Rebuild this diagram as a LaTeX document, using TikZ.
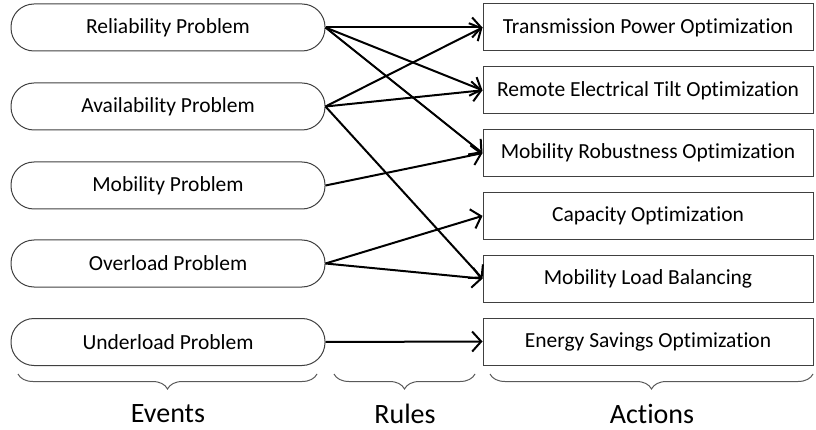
\documentclass[tikz,border=0pt]{standalone}
\usepackage{fontspec}
\setmainfont{Carlito}[Ligatures={NoCommon}]
\usetikzlibrary{arrows.meta,decorations.pathreplacing}
\begin{document}
\begin{tikzpicture}[x=1pt,y=-1pt,
  event/.style={draw=black!75,line width=1pt,rounded corners=23pt,minimum width=314pt,minimum height=47pt,inner sep=0pt,font=\fontsize{21.5}{24}\selectfont},
  action/.style={draw=black!75,line width=1pt,minimum width=330pt,minimum height=47pt,inner sep=0pt,font=\fontsize{21.5}{24}\selectfont},
  arr/.style={line width=2pt,-{Straight Barb[length=9pt,width=20pt,line width=2pt]}},
  brc/.style={draw=black!65,line width=1pt,decorate,decoration={brace,mirror,amplitude=15pt}},
  lbl/.style={font=\fontsize{28}{30}\selectfont,inner sep=0pt}]
\path[use as bounding box] (0,0) rectangle (816,430);
% events
\node[event] (rel) at (168,27.5) {Reliability Problem};
\node[event] (ava) at (168,106.5) {Availability Problem};
\node[event] (mob) at (168,185.5) {Mobility Problem};
\node[event] (ovl) at (168,263.5) {Overload Problem};
\node[event] (unl) at (168,342) {Underload Problem};
% actions
\node[action] (tpo) at (648,27.5) {Transmission Power Optimization};
\node[action] (ret) at (648,90.3) {Remote Electrical Tilt Optimization};
\node[action] (mro) at (648,153.1) {Mobility Robustness Optimization};
\node[action] (cap) at (648,215.9) {Capacity Optimization};
\node[action] (mlb) at (648,278.7) {Mobility Load Balancing};
\node[action] (eso) at (648,341.5) {Energy Savings Optimization};
% connectors
\draw[arr] (rel.east) -- (tpo.west);
\draw[arr] (rel.east) -- (ret.west);
\draw[arr] (rel.east) -- (mro.west);
\draw[arr] (ava.east) -- (tpo.west);
\draw[arr] (ava.east) -- (ret.west);
\draw[arr] (ava.east) -- (mlb.west);
\draw[arr] (mob.east) -- (mro.west);
\draw[arr] (ovl.east) -- (cap.west);
\draw[arr] (ovl.east) -- (mlb.west);
\draw[arr] (unl.east) -- (eso.west);
% braces
\coordinate (e1) at (18,374);
\coordinate (e2) at (317,374);
\coordinate (r1) at (334,374);
\coordinate (r2) at (475,374);
\coordinate (a1) at (490,374);
\coordinate (a2) at (813,374);
\draw[brc] (e1) -- (e2);
\draw[brc] (r1) -- (r2);
\draw[brc] (a1) -- (a2);
\node[lbl] (ev) at (168,414) {Events};
\node[lbl] (ru) at (405,414) {Rules};
\node[lbl] (ac) at (652,414) {Actions};
\end{tikzpicture}
\end{document}
